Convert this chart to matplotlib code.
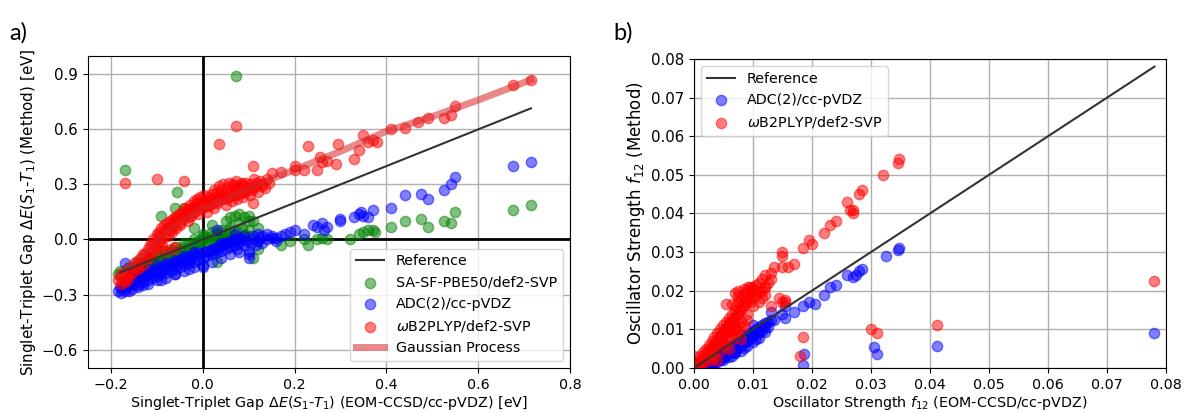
import numpy as np
import matplotlib
matplotlib.use('Agg')
import matplotlib.pyplot as plt

# ---------------- panel a: singlet-triplet gaps [eV] ----------------
# omegaB2PLYP/def2-SVP (red)
red_a_x = [-0.185, -0.18, -0.178, -0.175, -0.172, -0.17, -0.168, -0.165, -0.16, -0.155,
           -0.15, -0.145, -0.14, -0.135, -0.13, -0.125, -0.12, -0.118, -0.115, -0.11,
           -0.108, -0.105, -0.10, -0.098, -0.095, -0.092, -0.09, -0.088, -0.085, -0.082,
           -0.08, -0.078, -0.075, -0.072, -0.07, -0.068, -0.065, -0.062, -0.06, -0.058,
           -0.055, -0.052, -0.05, -0.048, -0.045, -0.042, -0.04, -0.038, -0.035, -0.032,
           -0.03, -0.028, -0.025, -0.022, -0.02, -0.018, -0.015, -0.012, -0.01, -0.008,
           -0.005, -0.002, 0.0, 0.003, 0.005, 0.008, 0.01, 0.012, 0.015, 0.018,
           0.02, 0.022, 0.025, 0.028, 0.03, 0.032, 0.035, 0.038, 0.04, 0.042,
           0.045, 0.048, 0.05, 0.052, 0.055, 0.058, 0.06, 0.063, 0.065, 0.068,
           0.07, 0.073, 0.075, 0.078, 0.08, 0.083, 0.085, 0.088, 0.09, 0.093,
           0.095, 0.10, 0.103, 0.105, 0.108, 0.112, 0.115, 0.118, 0.12, 0.125,
           0.13, 0.135, 0.14, 0.145, -0.085, -0.07, -0.06, -0.13, -0.14,
           -0.16, -0.14, -0.12, -0.10, -0.09, -0.07, -0.05, -0.03, -0.01, 0.01,
           0.03, 0.05, 0.07, 0.09, 0.11, 0.13, -0.11, -0.095, -0.075, -0.055,
           -0.035, -0.015, 0.005, 0.025, 0.045, 0.065, 0.085,
           -0.17, -0.10, -0.04, 0.035, 0.073, 0.11, 0.11, 0.23, 0.295, 0.255, 0.33,
           0.15, 0.17, 0.20, 0.20, 0.22, 0.25, 0.26, 0.27, 0.29, 0.34,
           0.35, 0.36, 0.37, 0.38, 0.41, 0.44, 0.47, 0.49, 0.525, 0.54,
           0.55, 0.675, 0.715]
red_a_y = [-0.22, -0.20, -0.24, -0.18, -0.21, -0.23, -0.19, -0.22, -0.20, -0.18,
           -0.15, -0.12, -0.16, -0.10, -0.14, -0.08, -0.05, -0.10, -0.03, -0.07,
           0.00, -0.04, 0.03, -0.02, 0.04, 0.01, 0.06, -0.03, 0.08, 0.03,
           0.05, 0.09, 0.02, 0.10, 0.07, 0.04, 0.11, 0.08, 0.12, 0.06,
           0.10, 0.14, 0.09, 0.12, 0.15, 0.11, 0.13, 0.17, 0.14, 0.10,
           0.16, 0.19, 0.13, 0.17, 0.21, 0.15, 0.18, 0.22, 0.16, 0.19,
           0.23, 0.17, 0.20, 0.24, 0.18, 0.21, 0.15, 0.23, 0.19, 0.22,
           0.25, 0.20, 0.17, 0.23, 0.26, 0.21, 0.29, 0.24, 0.27, 0.22,
           0.30, 0.25, 0.19, 0.28, 0.23, 0.31, 0.26, 0.21, 0.29, 0.24,
           0.27, 0.32, 0.22, 0.28, 0.25, 0.30, 0.27, 0.23, 0.29, 0.26,
           0.31, 0.28, 0.24, 0.30, 0.27, 0.33, 0.29, 0.31, 0.26, 0.32,
           0.30, 0.28, 0.33, 0.31, -0.06, -0.05, -0.04, -0.08, -0.15,
           -0.17, -0.13, -0.09, -0.05, -0.01, 0.05, 0.08, 0.12, 0.14, 0.18,
           0.20, 0.22, 0.24, 0.26, 0.28, 0.29, -0.02, 0.02, 0.07, 0.12,
           0.16, 0.20, 0.21, 0.27, 0.23, 0.30, 0.31,
           0.31, 0.33, 0.32, 0.52, 0.62, 0.40, 0.20, 0.51, 0.52, 0.45, 0.44,
           0.36, 0.37, 0.40, 0.38, 0.38, 0.38, 0.42, 0.43, 0.41, 0.49,
           0.57, 0.53, 0.54, 0.53, 0.60, 0.61, 0.64, 0.66, 0.66, 0.68,
           0.73, 0.84, 0.87]

# SA-SF-PBE50/def2-SVP (green)
green_a_x = [-0.185, -0.18, -0.175, -0.17, -0.165, -0.16, -0.155, -0.15, -0.145, -0.14,
             -0.135, -0.13, -0.125, -0.12, -0.115, -0.11, -0.105, -0.10, -0.095, -0.09,
             -0.085, -0.08, -0.075, -0.07, -0.065, -0.06, -0.055, -0.05, -0.045, -0.04,
             -0.035, -0.03, -0.025, -0.02, -0.015, -0.01, -0.005, 0.0, 0.005, 0.01,
             0.015, 0.02, 0.025, 0.03, 0.035, 0.04, 0.045, 0.05, 0.055, 0.06,
             0.065, 0.07, 0.075, 0.08, 0.085, 0.09, 0.095, 0.10, -0.02, 0.0, 0.02,
             -0.16, -0.14, -0.12, -0.10, -0.08, -0.06, -0.04, -0.02, 0.0, 0.02,
             0.04, 0.06, 0.08, 0.10, 0.03, 0.05, 0.07,
             -0.17, 0.073, -0.055, -0.06, -0.09, -0.04,
             0.05, 0.06, 0.07, 0.08, 0.09, 0.10, 0.12, 0.11, 0.10, 0.12,
             0.11, 0.17, 0.19, 0.22, 0.23, 0.25, 0.26, 0.27, 0.32, 0.34,
             0.35, 0.36, 0.37, 0.375, 0.41, 0.44, 0.475, 0.49, 0.525, 0.54,
             0.55, 0.675, 0.715, 0.03, 0.02]
green_a_y = [-0.19, -0.17, -0.20, -0.18, -0.16, -0.19, -0.17, -0.15, -0.18, -0.14,
             -0.16, -0.13, -0.15, -0.12, -0.14, -0.11, -0.13, -0.10, -0.12, -0.09,
             -0.11, -0.08, -0.10, -0.07, -0.09, -0.06, -0.08, -0.05, -0.07, -0.04,
             -0.06, -0.03, -0.05, -0.02, -0.04, -0.01, -0.03, 0.00, -0.02, 0.01,
             -0.01, 0.02, 0.00, 0.03, 0.01, 0.04, 0.02, 0.00, 0.03, 0.05,
             0.02, -0.01, 0.04, 0.01, 0.06, 0.03, 0.00, 0.05, 0.06, 0.03, 0.08,
             -0.15, -0.12, -0.10, -0.08, -0.06, -0.04, -0.02, 0.00, 0.02, 0.04,
             0.05, 0.07, 0.09, 0.10, -0.03, -0.01, 0.02,
             0.38, 0.89, 0.26, 0.17, 0.13, 0.17,
             0.10, 0.12, 0.13, 0.14, 0.12, 0.13, 0.06, 0.10, 0.02, -0.05,
             -0.10, -0.03, -0.01, 0.00, -0.03, 0.00, 0.01, 0.00, 0.00, 0.03,
             0.04, 0.05, 0.05, 0.04, 0.07, 0.10, 0.11, 0.07, 0.10, 0.09,
             0.15, 0.16, 0.19, -0.12, -0.06]

# ADC(2)/cc-pVDZ (blue)
blue_a_x = [-0.185, -0.18, -0.178, -0.175, -0.17, -0.165, -0.16, -0.155, -0.15, -0.145,
            -0.14, -0.135, -0.13, -0.125, -0.12, -0.115, -0.11, -0.105, -0.10, -0.095,
            -0.09, -0.085, -0.08, -0.075, -0.07, -0.065, -0.06, -0.055, -0.05, -0.045,
            -0.04, -0.035, -0.03, -0.025, -0.02, -0.015, -0.01, -0.005, 0.0, 0.0,
            0.005, 0.01, 0.015, 0.02, 0.025, 0.03, 0.035, 0.04, 0.045, 0.05,
            0.055, 0.06, 0.065, 0.07, 0.075, 0.08, 0.085, 0.09, 0.095, 0.10,
            0.105, 0.11, 0.115, 0.12, 0.125, 0.13, 0.14, 0.15, 0.16, 0.17,
            0.18, -0.12, -0.10, -0.08, -0.06, -0.04, -0.02, -0.15, -0.14, -0.03,
            -0.06, -0.09, -0.13, -0.17, 0.03, 0.07, 0.04, 0.10, 0.10,
            -0.17, -0.16, -0.15, -0.14, -0.13, -0.12, -0.11, -0.10, -0.09, -0.08,
            -0.07, -0.06, -0.05, -0.04, -0.03, -0.02, -0.01, 0.01, 0.02, 0.03,
            0.04, 0.05, 0.06, 0.07, 0.08, 0.09, 0.11, 0.12, 0.13, 0.14,
            0.15, 0.16, -0.16, -0.14, -0.12, -0.10, -0.08, -0.06, -0.04, -0.02,
            0.0, 0.02, 0.04, 0.06, 0.08,
            0.19, 0.20, 0.22, 0.24, 0.25, 0.26, 0.27, 0.265, 0.30, 0.30,
            0.33, 0.34, 0.345, 0.35, 0.36, 0.37, 0.41, 0.44, 0.475, 0.49,
            0.525, 0.54, 0.55, 0.675, 0.715]
blue_a_y = [-0.28, -0.26, -0.29, -0.27, -0.28, -0.26, -0.25, -0.27, -0.24, -0.22,
            -0.25, -0.21, -0.23, -0.20, -0.22, -0.19, -0.21, -0.18, -0.20, -0.17,
            -0.19, -0.16, -0.18, -0.15, -0.17, -0.14, -0.16, -0.13, -0.15, -0.12,
            -0.14, -0.11, -0.13, -0.10, -0.12, -0.09, -0.11, -0.08, -0.10, -0.15,
            -0.07, -0.09, -0.06, -0.08, -0.05, -0.07, -0.04, -0.06, -0.03, -0.05,
            -0.02, -0.04, -0.01, -0.03, -0.05, -0.02, 0.00, -0.03, -0.01, -0.06,
            -0.02, 0.00, -0.03, -0.01, 0.01, -0.02, 0.00, 0.01, -0.01, 0.02,
            0.03, -0.16, -0.14, -0.13, -0.11, -0.09, -0.07, -0.21, -0.19, -0.16,
            -0.19, -0.22, -0.25, -0.13, 0.05, 0.03, -0.02, -0.08, -0.10,
            -0.24, -0.23, -0.22, -0.20, -0.19, -0.18, -0.17, -0.16, -0.15, -0.14,
            -0.13, -0.12, -0.11, -0.10, -0.09, -0.08, -0.07, -0.06, -0.05, -0.04,
            -0.03, -0.02, -0.01, 0.00, 0.01, 0.02, 0.02, 0.03, 0.02, 0.03,
            0.02, 0.01, -0.28, -0.26, -0.24, -0.22, -0.21, -0.19, -0.17, -0.15,
            -0.14, -0.12, -0.10, -0.08, -0.07,
            0.04, 0.05, 0.03, 0.08, 0.07, 0.09, 0.07, 0.05, 0.11, 0.10,
            0.12, 0.14, 0.15, 0.13, 0.12, 0.16, 0.17, 0.24, 0.25, 0.22,
            0.27, 0.30, 0.34, 0.40, 0.42]

# Gaussian process fit through the wB2PLYP data
gp_x = [-0.18, -0.15, -0.12, -0.10, -0.08, -0.05, -0.02, 0.0, 0.05, 0.10,
        0.15, 0.20, 0.30, 0.40, 0.50, 0.60, 0.715]
gp_y = [-0.19, -0.12, -0.06, -0.01, 0.04, 0.09, 0.14, 0.17, 0.22, 0.28,
        0.33, 0.38, 0.48, 0.59, 0.67, 0.76, 0.87]
ref_a = [-0.18, 0.715]

# ---------------- panel b: oscillator strengths ----------------
red_b_x = [0.0003, 0.0005, 0.0008, 0.001, 0.0012, 0.0015, 0.0015, 0.0018, 0.002, 0.002,
           0.0022, 0.0025, 0.0025, 0.0028, 0.003, 0.003, 0.0032, 0.0035, 0.0035, 0.0038,
           0.004, 0.004, 0.0042, 0.0045, 0.0045, 0.0048, 0.005, 0.005, 0.0052, 0.0055,
           0.0055, 0.0058, 0.006, 0.006, 0.0062, 0.0065, 0.0065, 0.0068, 0.007, 0.007,
           0.0072, 0.0075, 0.0075, 0.0078, 0.008, 0.008, 0.0082, 0.0085, 0.0085, 0.0088,
           0.009, 0.0092, 0.0095, 0.0098, 0.010, 0.0105, 0.011, 0.0115, 0.012, 0.0125,
           0.013, 0.0055, 0.0075, 0.007, 0.004, 0.006, 0.0005, 0.001, 0.0, 0.0,
           0.001, 0.002, 0.003, 0.004, 0.005, 0.006, 0.007, 0.008, 0.009, 0.010,
           0.011, 0.012, 0.0025, 0.0035, 0.0045, 0.0055, 0.0065, 0.0075, 0.0085, 0.0095,
           0.0105, 0.0115, 0.003, 0.005, 0.007,
           0.006, 0.007, 0.008, 0.009, 0.010, 0.011, 0.012, 0.0065, 0.0075, 0.0085,
           0.0095, 0.0105, 0.0115, 0.005, 0.006, 0.007, 0.008, 0.009, 0.0035, 0.0045,
           0.0055, 0.0065, 0.0075, 0.0085, 0.012, 0.013,
           0.0135, 0.013, 0.015, 0.015, 0.016, 0.015, 0.0145, 0.015, 0.017, 0.0185,
           0.0195, 0.020, 0.022, 0.023, 0.024, 0.026, 0.027, 0.0265, 0.027, 0.028,
           0.0285, 0.032, 0.0345, 0.0347, 0.0185, 0.018, 0.030, 0.031, 0.0412, 0.078,
           0.0155, 0.0155]
red_b_y = [0.0005, 0.0015, 0.001, 0.003, 0.002, 0.004, 0.001, 0.003, 0.005, 0.002,
           0.004, 0.006, 0.003, 0.005, 0.007, 0.004, 0.006, 0.008, 0.005, 0.007,
           0.009, 0.006, 0.008, 0.010, 0.007, 0.009, 0.011, 0.008, 0.010, 0.012,
           0.009, 0.011, 0.013, 0.010, 0.012, 0.014, 0.011, 0.013, 0.015, 0.012,
           0.016, 0.014, 0.017, 0.015, 0.018, 0.0075, 0.016, 0.019, 0.017, 0.020,
           0.018, 0.021, 0.019, 0.020, 0.021, 0.019, 0.022, 0.020, 0.024, 0.022,
           0.023, 0.0165, 0.020, 0.0195, 0.002, 0.005, 0.0, 0.0, 0.001, 0.003,
           0.002, 0.003, 0.005, 0.007, 0.009, 0.011, 0.013, 0.015, 0.017, 0.018,
           0.020, 0.021, 0.0045, 0.006, 0.008, 0.010, 0.012, 0.014, 0.016, 0.021,
           0.020, 0.023, 0.002, 0.006, 0.010,
           0.009, 0.010, 0.012, 0.014, 0.016, 0.017, 0.019, 0.0165, 0.0185, 0.0205,
           0.017, 0.0215, 0.018, 0.0065, 0.008, 0.009, 0.0105, 0.0125, 0.003, 0.0045,
           0.006, 0.0075, 0.0095, 0.011, 0.021, 0.0245,
           0.026, 0.016, 0.030, 0.029, 0.026, 0.026, 0.018, 0.017, 0.027, 0.031,
           0.033, 0.032, 0.035, 0.037, 0.038, 0.043, 0.041, 0.041, 0.040, 0.045,
           0.046, 0.050, 0.053, 0.054, 0.008, 0.003, 0.010, 0.009, 0.011, 0.0225,
           0.0175, 0.0170]

blue_b_x = [0.001, 0.002, 0.002, 0.003, 0.003, 0.0035, 0.004, 0.004, 0.0045, 0.005,
            0.005, 0.0055, 0.006, 0.006, 0.0065, 0.007, 0.007, 0.0075, 0.008, 0.008,
            0.0085, 0.009, 0.009, 0.0095, 0.010, 0.010, 0.0105, 0.011, 0.011, 0.0115,
            0.012, 0.012, 0.0125, 0.013, 0.0135, 0.010, 0.0045, 0.0035, 0.0025, 0.0015,
            0.0065, 0.0075, 0.005, 0.008, 0.0055,
            0.0025, 0.0035, 0.0045, 0.0055, 0.0065, 0.0075, 0.0085, 0.0095, 0.0105, 0.0115,
            0.0125, 0.003, 0.005, 0.007, 0.009, 0.011, 0.004, 0.006, 0.008,
            0.004, 0.005, 0.006, 0.007, 0.008, 0.009, 0.010, 0.011, 0.012, 0.0065,
            0.0085, 0.0105,
            0.0155, 0.0155, 0.015, 0.017, 0.0185, 0.0195, 0.0205, 0.022, 0.023, 0.024,
            0.026, 0.027, 0.0275, 0.028, 0.0285, 0.0325, 0.0345, 0.0347, 0.0187, 0.0185,
            0.0305, 0.031, 0.0412, 0.078, 0.013]
blue_b_y = [0.0, 0.0, 0.001, 0.0005, 0.002, 0.001, 0.002, 0.003, 0.0025, 0.003,
            0.004, 0.0035, 0.004, 0.005, 0.0055, 0.005, 0.0065, 0.006, 0.007, 0.0065,
            0.0075, 0.008, 0.0085, 0.009, 0.0085, 0.0095, 0.010, 0.0095, 0.0105, 0.011,
            0.0105, 0.0115, 0.012, 0.0125, 0.0125, 0.011, 0.0045, 0.0025, 0.0015, 0.0005,
            0.006, 0.0068, 0.005, 0.0085, 0.0055,
            0.0005, 0.0015, 0.002, 0.003, 0.004, 0.0055, 0.0065, 0.0075, 0.009, 0.0095,
            0.0105, 0.001, 0.0025, 0.004, 0.007, 0.009, 0.0035, 0.0048, 0.0058,
            0.0015, 0.002, 0.0028, 0.0038, 0.0045, 0.0058, 0.0068, 0.0078, 0.0092, 0.0032,
            0.0052, 0.0075,
            0.016, 0.013, 0.014, 0.0145, 0.016, 0.017, 0.0165, 0.019, 0.021, 0.0215,
            0.024, 0.0235, 0.024, 0.025, 0.0255, 0.029, 0.0305, 0.031, 0.0035, 0.0008,
            0.0055, 0.0036, 0.0058, 0.009, 0.0145]
ref_b = [0.0, 0.078]

# ---------------- figure ----------------
plt.rcParams['font.size'] = 10.3
fig = plt.figure(figsize=(11.84, 4.12), dpi=100)
ax1 = fig.add_axes([0.0743, 0.107, 0.4071, 0.757])
ax2 = fig.add_axes([0.586, 0.107, 0.399, 0.750])

ms = 55
ax1.grid(True, color='#b0b0b0', lw=1.0)
ax1.set_axisbelow(True)
ax1.axhline(0, color='k', lw=2, zorder=1)
ax1.axvline(0, color='k', lw=2, zorder=1)
ax1.plot(ref_a, ref_a, color='#333333', lw=1.5, label='Reference', zorder=3)
ax1.scatter(green_a_x, green_a_y, s=ms, color='g', alpha=0.5,
            label='SA-SF-PBE50/def2-SVP', zorder=2)
ax1.scatter(blue_a_x, blue_a_y, s=ms, color='b', alpha=0.5,
            label='ADC(2)/cc-pVDZ', zorder=2)
ax1.scatter(red_a_x, red_a_y, s=ms, color='r', alpha=0.5,
            label=r'$\omega$B2PLYP/def2-SVP', zorder=2)
ax1.plot(gp_x, gp_y, color='#d62728', alpha=0.55, lw=5, label='Gaussian Process', zorder=2)
ax1.set_xlim(-0.25, 0.8)
ax1.set_ylim(-0.7, 1.0)
ax1.set_xticks([-0.2, 0.0, 0.2, 0.4, 0.6, 0.8])
ax1.set_yticks([-0.6, -0.3, 0.0, 0.3, 0.6, 0.9])
ax1.tick_params(axis='y', labelsize=10.8)
ax1.set_xlabel(r'Singlet-Triplet Gap $\Delta E(S_1$-$T_1)$ (EOM-CCSD/cc-pVDZ) [eV]', labelpad=2)
ax1.set_ylabel(r'Singlet-Triplet Gap $\Delta E(S_1$-$T_1)$ (Method) [eV]', labelpad=3,
               fontsize=10.9)
ax1.legend(loc='lower right', fontsize=10.3)

ax2.grid(True, color='#b0b0b0', lw=1.0)
ax2.set_axisbelow(True)
ax2.plot(ref_b, ref_b, color='#333333', lw=1.5, label='Reference', zorder=3)
ax2.scatter(blue_b_x, blue_b_y, s=ms, color='b', alpha=0.5,
            label='ADC(2)/cc-pVDZ', zorder=2)
ax2.scatter(red_b_x, red_b_y, s=ms, color='r', alpha=0.5,
            label=r'$\omega$B2PLYP/def2-SVP', zorder=2)
ax2.set_xlim(0, 0.08)
ax2.set_ylim(0, 0.08)
ax2.set_xticks(np.arange(0, 0.081, 0.01))
ax2.set_yticks(np.arange(0, 0.081, 0.01))
ax2.tick_params(axis='y', labelsize=10.8)
ax2.set_xlabel(r'Oscillator Strength $f_{12}$ (EOM-CCSD/cc-pVDZ)', labelpad=2)
ax2.set_ylabel(r'Oscillator Strength $f_{12}$ (Method)', labelpad=3, fontsize=12)
ax2.legend(loc='upper left', fontsize=10.3)

fig.text(0.008, 0.905, 'a)', fontsize=17, family='Lato')
fig.text(0.518, 0.905, 'b)', fontsize=17, family='Lato')

fig.savefig('out.png', dpi=100)
